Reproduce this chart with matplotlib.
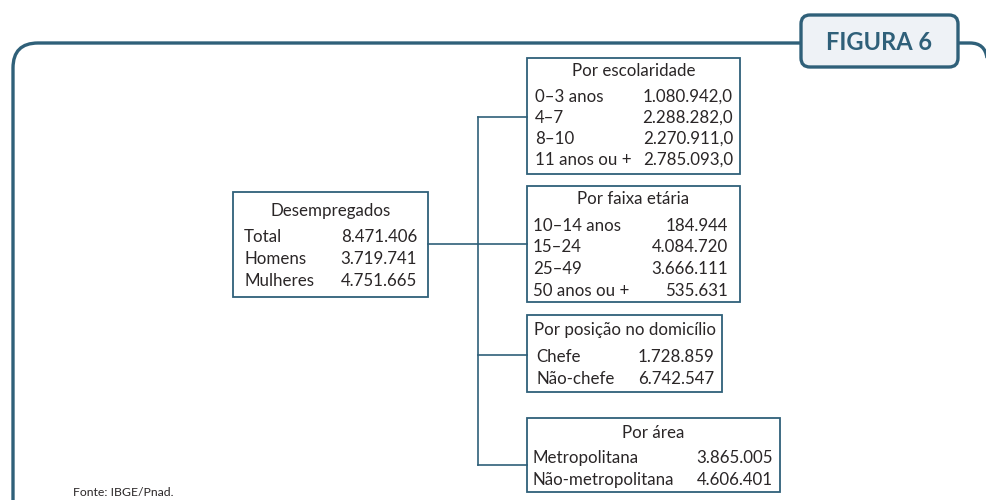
import matplotlib
matplotlib.use("Agg")
import matplotlib.pyplot as plt
from matplotlib.patches import FancyBboxPatch, Rectangle, PathPatch
from matplotlib.path import Path

plt.rcParams['font.family'] = ['Lato', 'DejaVu Sans']

TEAL = "#2f6079"
TXT = "#2a2627"

# data
main_title = "Desempregados"
main_labels = ["Total", "Homens", "Mulheres"]
main_values = [8471406, 3719741, 4751665]

esc_title = "Por escolaridade"
esc_labels = ["0–3 anos", "4–7", "8–10", "11 anos ou +"]
esc_values = [1080942.0, 2288282.0, 2270911.0, 2785093.0]

idade_title = "Por faixa etária"
idade_labels = ["10–14 anos", "15–24", "25–49", "50 anos ou +"]
idade_values = [184944, 4084720, 3666111, 535631]

pos_title = "Por posição no domicílio"
pos_labels = ["Chefe", "Não-chefe"]
pos_values = [1728859, 6742547]

area_title = "Por área"
area_labels = ["Metropolitana", "Não-metropolitana"]
area_values = [3865005, 4606401]


def fmt(v, dec=0):
    s = f"{v:,.{dec}f}"
    return s.replace(",", "X").replace(".", ",").replace("X", ".")


fig = plt.figure(figsize=(9.86, 5.0), dpi=100)
ax = fig.add_axes([0, 0, 1, 1])
ax.set_xlim(0, 986)
ax.set_ylim(500, 0)
ax.axis("off")

# outer frame
verts = [(13, 505), (13, 68), (13, 43), (38, 43), (800, 43)]
codes = [Path.MOVETO, Path.LINETO, Path.CURVE3, Path.CURVE3, Path.LINETO]
ax.add_patch(PathPatch(Path(verts, codes), fill=False, ec=TEAL, lw=2.4,
                       capstyle="butt"))
verts = [(958, 43), (970, 43), (985, 43), (987, 58)]
codes = [Path.MOVETO, Path.LINETO, Path.CURVE3, Path.CURVE3]
ax.add_patch(PathPatch(Path(verts, codes), fill=False, ec=TEAL, lw=2.4))

# FIGURA badge
ax.add_patch(FancyBboxPatch((801, 15), 157, 52,
                            boxstyle="round,pad=0,rounding_size=9",
                            fc="#eef2f6", ec=TEAL, lw=2.4))
ax.text(879, 42, "FIGURA 6", ha="center", va="center", color=TEAL,
        fontsize=17, fontweight="bold")


def box(x0, y0, x1, y1, title, title_y, labels, values, rows_y, lx, vx, dec=0):
    ax.add_patch(Rectangle((x0, y0), x1 - x0, y1 - y0, fill=False,
                           ec=TEAL, lw=1.3))
    ax.text((x0 + x1) / 2, title_y, title, ha="center", va="center",
            color=TXT, fontsize=12.2)
    for lab, val, ry in zip(labels, values, rows_y):
        ax.text(lx, ry, lab, ha="left", va="center", color=TXT, fontsize=12.2)
        ax.text(vx, ry, fmt(val, dec), ha="right", va="center", color=TXT,
                fontsize=12.2)


box(233, 192, 428, 297, main_title, 211, main_labels, main_values,
    [237, 259, 281], 244, 417)
box(527, 58, 740, 174, esc_title, 71, esc_labels, esc_values,
    [97, 118, 139, 160], 535, 733, dec=1)
box(527, 186, 740, 302, idade_title, 199, idade_labels, idade_values,
    [226, 247, 269, 291], 533, 728)
box(527, 315, 722, 392, pos_title, 330, pos_labels, pos_values,
    [357, 379], 536, 714)
box(527, 418, 780, 492, area_title, 433, area_labels, area_values,
    [458, 480], 533, 773)

# connectors
ax.plot([428, 478], [244, 244], color=TEAL, lw=1.2)
ax.plot([478, 478], [117, 465], color=TEAL, lw=1.2)
for yy in [117, 244, 355, 465]:
    ax.plot([478, 527], [yy, yy], color=TEAL, lw=1.2)

ax.text(73, 492, "Fonte: IBGE/Pnad.", ha="left", va="center", color=TXT,
        fontsize=8.8)

fig.savefig("out.png", dpi=100)
